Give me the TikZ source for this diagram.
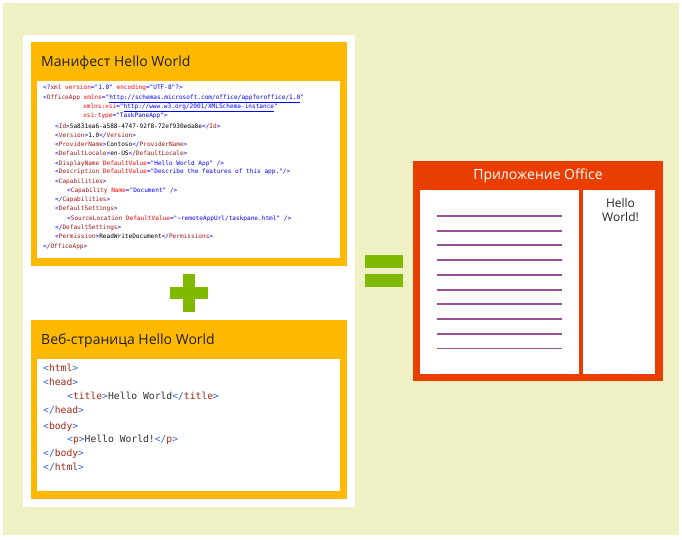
\documentclass[tikz,border=0pt]{standalone}
\usepackage{fontspec}
\setmainfont{Open Sans}
\newfontfamily\codefont{DejaVu Sans Mono}
\definecolor{bgyel}{RGB}{239,240,196}
\definecolor{msorange}{RGB}{255,185,0}
\definecolor{msred}{RGB}{234,62,0}
\definecolor{msgreen}{RGB}{127,186,0}
\definecolor{purp}{RGB}{155,79,150}
\definecolor{xblue}{RGB}{0,0,255}
\definecolor{xelem}{RGB}{163,21,21}
\definecolor{xattr}{RGB}{255,0,0}
\definecolor{hblue}{RGB}{50,100,220}
\definecolor{hred}{RGB}{163,40,20}
\definecolor{htext}{RGB}{50,50,50}
\newcommand\xB[1]{\textcolor{xblue}{#1}}
\newcommand\xE[1]{\textcolor{xelem}{#1}}
\newcommand\xA[1]{\textcolor{xattr}{#1}}
\newcommand\xV[1]{\textcolor{xblue}{#1}}
\newcommand\xU[1]{\textcolor{xblue}{\underline{#1}}}
\newcommand\hB[1]{\textcolor{hblue}{#1}}
\newcommand\hE[1]{\textcolor{hred}{#1}}
\tikzset{
  title/.style={anchor=base west, inner sep=0pt, text=black!88, font=\fontsize{14}{17}\selectfont},
  xml/.style={anchor=base west, inner sep=0pt, text=black, font=\codefont\fontsize{6.1}{7}\selectfont},
  html/.style={anchor=base west, inner sep=0pt, text=htext, font=\codefont\fontsize{9.7}{11}\selectfont},
  docline/.style={draw=purp, line width=1.6pt},
}
\begin{document}
\begin{tikzpicture}[x=1pt,y=-1pt]
\useasboundingbox (0,0) rectangle (682,539);
\fill[white] (0,0) rectangle (682,539);
\fill[bgyel] (3,3) rectangle (679,535);
\fill[white] (23,35) rectangle (355,507);
% manifest box
\fill[msorange] (31,42) rectangle (347,266);
\fill[white] (37,81) rectangle (340,258);
\node[title] (mtitle) at (41,66) {Манифест Hello World};
\node[xml] (x1) at (43,89.7) {\xB{<?}\xE{xml} \xA{version}\xB{=}\xV{"1.0"} \xA{encoding}\xB{=}\xV{"UTF-8"}\xB{?>}};
\node[xml] (x2) at (43,99.7) {\xB{<}\xE{OfficeApp} \xA{xmlns}\xB{=}\xV{"}\xU{http://schemas.microsoft.com/office/appforoffice/1.0}\xV{"}};
\node[xml] (x3) at (83,108.7) {\xA{xmlns:xsi}\xB{=}\xV{"}\xU{http://www.w3.org/2001/XMLSchema-instance}\xV{"}};
\node[xml] (x4) at (83,117.7) {\xA{xsi:type}\xB{=}\xV{"TaskPaneApp"}\xB{>}};
\node[xml] (x5) at (55,128) {\xB{<}\xE{Id}\xB{>}5a831ea6-a588-4747-92f8-72ef930eda8e\xB{</}\xE{Id}\xB{>}};
\node[xml] (x6) at (55,137) {\xB{<}\xE{Version}\xB{>}1.0\xB{</}\xE{Version}\xB{>}};
\node[xml] (x7) at (55,146) {\xB{<}\xE{ProviderName}\xB{>}Contoso\xB{</}\xE{ProviderName}\xB{>}};
\node[xml] (x8) at (55,155.7) {\xB{<}\xE{DefaultLocale}\xB{>}en-US\xB{</}\xE{DefaultLocale}\xB{>}};
\node[xml] (x9) at (55,165) {\xB{<}\xE{DisplayName} \xA{DefaultValue}\xB{=}\xV{"Hello World App"} \xB{/>}};
\node[xml] (x10) at (55,173.7) {\xB{<}\xE{Description} \xA{DefaultValue}\xB{=}\xV{"Describe the features of this app."}\xB{/>}};
\node[xml] (x11) at (55,183) {\xB{<}\xE{Capabilities}\xB{>}};
\node[xml] (x12) at (67,192.3) {\xB{<}\xE{Capability} \xA{Name}\xB{=}\xV{"Document"} \xB{/>}};
\node[xml] (x13) at (55,201.3) {\xB{</}\xE{Capabilities}\xB{>}};
\node[xml] (x14) at (55,210.7) {\xB{<}\xE{DefaultSettings}\xB{>}};
\node[xml] (x15) at (67,220.3) {\xB{<}\xE{SourceLocation} \xA{DefaultValue}\xB{=}\xV{"\string~remoteAppUrl/taskpane.html"} \xB{/>}};
\node[xml] (x16) at (55,229.3) {\xB{</}\xE{DefaultSettings}\xB{>}};
\node[xml] (x17) at (55,238.7) {\xB{<}\xE{Permission}\xB{>}ReadWriteDocument\xB{</}\xE{Permissions}\xB{>}};
\node[xml] (x18) at (43,248) {\xB{</}\xE{OfficeApp}\xB{>}};
% plus
\fill[msgreen] (183,274) rectangle (195,312);
\fill[msgreen] (170,287) rectangle (208,299);
% web page box
\fill[msorange] (31,320) rectangle (347,499);
\fill[white] (37,359) rectangle (340,491);
\node[title] (wtitle) at (41,344) {Веб-страница Hello World};
\node[html] (h1) at (43,371.8) {\hB{<}\hE{html}\hB{>}};
\node[html] (h2) at (43,385.8) {\hB{<}\hE{head}\hB{>}};
\node[html] (h3) at (67,399.8) {\hB{<}\hE{title}\hB{>}Hello World\hB{</}\hE{title}\hB{>}};
\node[html] (h4) at (43,413.5) {\hB{</}\hE{head}\hB{>}};
\node[html] (h5) at (43,429.2) {\hB{<}\hE{body}\hB{>}};
\node[html] (h6) at (67,442.8) {\hB{<}\hE{p}\hB{>}Hello World!\hB{</}\hE{p}\hB{>}};
\node[html] (h7) at (43,456.8) {\hB{</}\hE{body}\hB{>}};
\node[html] (h8) at (43,470.5) {\hB{</}\hE{html}\hB{>}};
% equals
\fill[msgreen] (365,255) rectangle (403,268);
\fill[msgreen] (365,274) rectangle (403,287);
% office app
\fill[msred] (413,161) rectangle (663,381);
\fill[white] (420,190) rectangle (579,374);
\fill[white] (583,190) rectangle (655,374);
\node[anchor=base, inner sep=0pt, text=white, font=\fontsize{14}{17}\selectfont] (atitle) at (538,179) {Приложение Office};
\foreach \yy in {216,231,245,260,275,290,304,319,334}
  \draw[docline] (437,\yy) -- (562,\yy);
\draw[docline, line width=1pt] (437,348.3) -- (562,348.3);
\node[anchor=base, inner sep=0pt, text=black!85, font=\fontsize{12}{14}\selectfont] (hw1) at (620.5,207.3) {Hello};
\node[anchor=base, inner sep=0pt, text=black!85, font=\fontsize{12}{14}\selectfont] (hw2) at (620.5,221) {World!};
\end{tikzpicture}
\end{document}
